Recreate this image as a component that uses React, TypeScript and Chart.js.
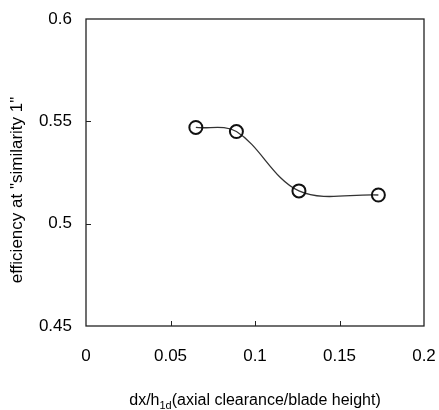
import React, { useEffect, useRef } from "react";
import { Chart, registerables } from "chart.js";

Chart.register(...registerables);

// Measured efficiency against axial clearance ratio
const clearanceRatio = [0.065, 0.089, 0.126, 0.173];
const efficiency = [0.547, 0.545, 0.516, 0.514];

// Axis ticks
const xTickValues = [0, 0.05, 0.1, 0.15, 0.2];
const xTickLabels = ["0", "0.05", "0.1", "0.15", "0.2"];
const yTickValues = [0.45, 0.5, 0.55, 0.6];
const yTickLabels = ["0.45", "0.5", "0.55", "0.6"];

const yTitle = 'efficiency at "similarity 1"';
const xTitleMain = "dx/h";
const xTitleSub = "1d";
const xTitleRest = "(axial clearance/blade height)";

const FONT = "'Liberation Sans', Arial, Helvetica, sans-serif";
const INK = "#000";

// Frame, inward tick marks and axis titles
const framePlugin = {
  id: "frame",
  afterDraw(chart: any) {
    const ctx = chart.ctx as CanvasRenderingContext2D;
    const { left, top, right, bottom } = chart.chartArea;
    const xs = chart.scales.x;
    const ys = chart.scales.y;
    ctx.save();
    ctx.strokeStyle = "#222";
    ctx.lineWidth = 1.3;
    ctx.strokeRect(left, top, right - left, bottom - top);

    ctx.lineWidth = 1;
    ctx.beginPath();
    xTickValues.forEach((v) => {
      const px = Math.round(xs.getPixelForValue(v)) + 0.5;
      if (px <= left + 1 || px >= right - 1) return;
      ctx.moveTo(px, bottom);
      ctx.lineTo(px, bottom - 5);
    });
    yTickValues.forEach((v) => {
      const py = Math.round(ys.getPixelForValue(v)) + 0.5;
      if (py <= top + 1 || py >= bottom - 1) return;
      ctx.moveTo(left, py);
      ctx.lineTo(left + 5, py);
    });
    ctx.stroke();

    // y title
    ctx.fillStyle = INK;
    ctx.save();
    ctx.translate(22, 190);
    ctx.rotate(-Math.PI / 2);
    ctx.font = `17px ${FONT}`;
    ctx.textAlign = "center";
    ctx.textBaseline = "alphabetic";
    ctx.fillText(yTitle, 0, 0);
    ctx.restore();

    // x title with subscript
    const mainFont = `16px ${FONT}`;
    const subFont = `11px ${FONT}`;
    ctx.textBaseline = "alphabetic";
    ctx.textAlign = "left";
    ctx.font = mainFont;
    const w1 = ctx.measureText(xTitleMain).width;
    const w3 = ctx.measureText(xTitleRest).width;
    ctx.font = subFont;
    const w2 = ctx.measureText(xTitleSub).width;
    const total = w1 + w2 + w3;
    const cx = (left + right) / 2;
    let x = cx - total / 2;
    const base = 405;
    ctx.font = mainFont;
    ctx.fillText(xTitleMain, x, base);
    x += w1;
    ctx.font = subFont;
    ctx.fillText(xTitleSub, x, base + 4);
    x += w2;
    ctx.font = mainFont;
    ctx.fillText(xTitleRest, x, base);
    ctx.restore();
  },
};

export default function App() {
  const canvasRef = useRef<HTMLCanvasElement | null>(null);

  useEffect(() => {
    const canvas = canvasRef.current;
    if (!canvas) return;
    const chart = new Chart(canvas, {
      type: "scatter",
      data: {
        datasets: [
          {
            data: clearanceRatio.map((x, i) => ({ x, y: efficiency[i] })),
            showLine: true,
            tension: 0.35,
            borderColor: "#333",
            borderWidth: 1.3,
            pointRadius: 6.5,
            pointHoverRadius: 6.5,
            pointBorderWidth: 2,
            pointBorderColor: "#111",
            pointBackgroundColor: "rgba(0,0,0,0)",
          },
        ],
      },
      options: {
        responsive: false,
        animation: false,
        events: [],
        layout: { padding: { left: 0, top: 19, right: 15, bottom: 0 } },
        plugins: {
          legend: { display: false },
          tooltip: { enabled: false },
        },
        scales: {
          x: {
            type: "linear",
            min: 0,
            max: 0.2,
            afterBuildTicks: (s: any) => {
              s.ticks = xTickValues.map((value) => ({ value }));
            },
            afterFit: (s: any) => {
              s.height = 84;
              s.paddingLeft = 0;
              s.paddingRight = 0;
            },
            grid: { display: false, drawTicks: false },
            border: { display: false },
            ticks: {
              padding: 20,
              maxRotation: 0,
              autoSkip: false,
              color: INK,
              font: { family: FONT, size: 17 },
              callback: (_v: any, i: number) => xTickLabels[i],
            },
          },
          y: {
            type: "linear",
            min: 0.45,
            max: 0.6,
            afterBuildTicks: (s: any) => {
              s.ticks = yTickValues.map((value) => ({ value }));
            },
            afterFit: (s: any) => {
              s.width = 86;
              s.paddingTop = 0;
              s.paddingBottom = 0;
            },
            grid: { display: false, drawTicks: false },
            border: { display: false },
            ticks: {
              padding: 14,
              autoSkip: false,
              color: INK,
              font: { family: FONT, size: 17 },
              callback: (_v: any, i: number) => yTickLabels[i],
            },
          },
        },
      },
      plugins: [framePlugin],
    });
    return () => chart.destroy();
  }, []);

  return (
    <div style={{ position: "absolute", left: 0, top: 0, width: 439, height: 410, background: "#fff" }}>
      <canvas ref={canvasRef} width={439} height={410} style={{ display: "block" }} />
    </div>
  );
}
